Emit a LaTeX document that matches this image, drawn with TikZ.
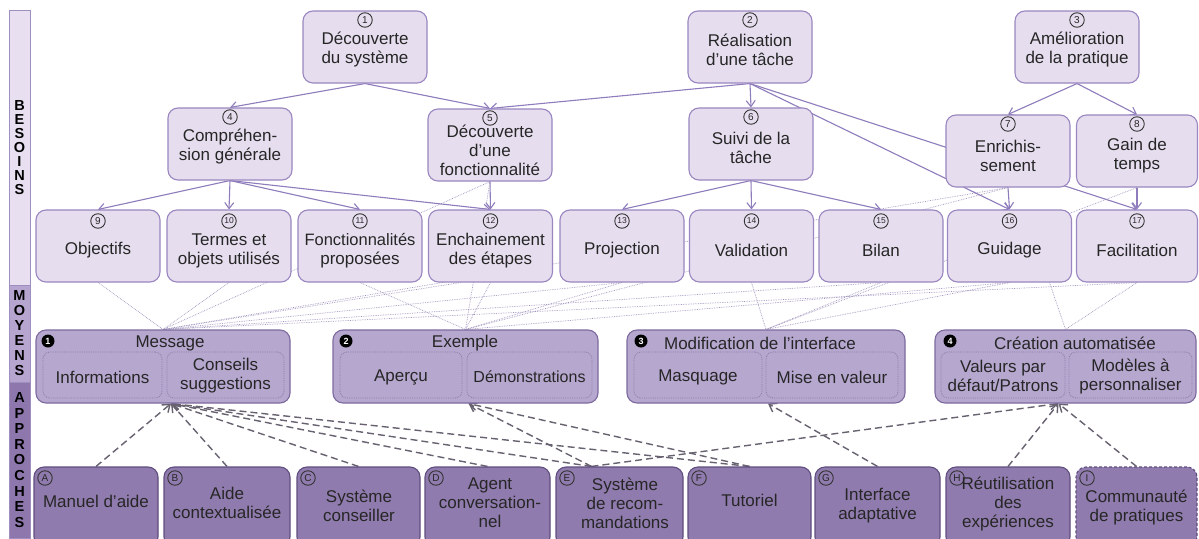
\documentclass[tikz,border=0pt]{standalone}
\usepackage{fontspec}
\setmainfont{Liberation Sans}
\usetikzlibrary{arrows.meta,calc,backgrounds}
\definecolor{needfill}{HTML}{E6DEEF}
\definecolor{needline}{HTML}{9A86C0}
\definecolor{moyfill}{HTML}{B6A7CF}
\definecolor{moyline}{HTML}{7C6A9E}
\definecolor{subline}{HTML}{8A7CA6}
\definecolor{appfill}{HTML}{907BAE}
\definecolor{appline}{HTML}{5F4E7E}
\definecolor{arrcol}{HTML}{8E7CBC}
\definecolor{dotcol}{HTML}{A094BE}
\definecolor{dashcol}{HTML}{676170}
\definecolor{sidea}{HTML}{E8E0F1}
\definecolor{sideb}{HTML}{B6A5CF}
\definecolor{sidec}{HTML}{8D77AD}
\definecolor{sideline}{HTML}{9F8FC0}
\begin{document}
\begin{tikzpicture}[x=1pt,y=-1pt,
  needbox/.style={draw=needline, fill=needfill, line width=1.1pt, rounded corners=10pt, minimum width=#1, minimum height=72pt, inner sep=0pt},
  needbox/.default=124pt,
  moybox/.style={draw=moyline, fill=moyfill, line width=1.1pt, rounded corners=10pt, minimum width=#1, minimum height=73pt, inner sep=0pt},
  subbox/.style={draw=subline, densely dotted, line width=0.8pt, rounded corners=7pt, minimum width=#1, minimum height=46pt, inner sep=0pt, fill=moyfill},
  appbox/.style={draw=appline, fill=appfill, line width=1.1pt, rounded corners=10pt, minimum width=#1, minimum height=80pt, inner sep=0pt},
  txt/.style={align=center, font=\fontsize{17}{19}\selectfont, inner sep=0pt, text=black!85},
  num/.style={circle, draw=black!80, line width=0.9pt, minimum size=14.5pt, inner sep=0pt, font=\fontsize{10}{10}\selectfont, text=black!85},
  num2/.style={num, font=\fontsize{8.5}{8.5}\selectfont},
  bnum/.style={circle, fill=black, minimum size=13pt, inner sep=0pt, font=\bfseries\fontsize{9}{9}\selectfont, text=white},
  sidebox/.style={draw=sideline, line width=0.8pt, minimum width=21pt, inner sep=0pt, align=center, font=\bfseries\fontsize{14.5}{#1}\selectfont},
  arr/.style={draw=arrcol, line width=1.1pt, -{Straight Barb[length=6pt,width=9pt]}},
  dotl/.style={draw=dotcol, line width=0.7pt, densely dotted},
  dasharr/.style={draw=dashcol, line width=1.4pt, dash pattern=on 7pt off 4pt, -{Straight Barb[length=7pt,width=10pt]}}
]
\useasboundingbox (0,0) rectangle (1199,538);

% sidebar
\node[sidebox=14pt, fill=sidea, minimum height=275pt] (sb1) at (19.5,147.5) {B\\E\\S\\O\\I\\N\\S};
\node[sidebox=15pt, fill=sideb, minimum height=97pt] (sb2) at (19.5,333.5) {M\\O\\Y\\E\\N\\S};
\node[sidebox=15.6pt, fill=sidec, minimum height=156pt] (sb3) at (19.5,460) {A\\P\\P\\R\\O\\C\\H\\E\\S};

% row 1
\node[needbox] (n1) at (365,47) {};
\node[num] (n1c) at (365,20) {1};
\node[txt] (n1t) at (365,50) {Découverte\\du système};
\node[needbox] (n2) at (750,47) {};
\node[num] (n2c) at (750,20) {2};
\node[txt] (n2t) at (750,50) {Réalisation\\d'une tâche};
\node[needbox] (n3) at (1077,47) {};
\node[num] (n3c) at (1077,20) {3};
\node[txt] (n3t) at (1077,50) {Amélioration\\de la pratique};

% row 2
\node[needbox] (n4) at (230,144) {};
\node[num] (n4c) at (230,117) {4};
\node[txt] (n4t) at (230,147) {Compréhen-\\sion générale};
\node[needbox] (n5) at (490,145) {};
\node[num] (n5c) at (490,118) {5};
\node[txt] (n5t) at (490,150) {Découverte\\d'une\\fonctionnalité};
\node[needbox] (n6) at (751,144) {};
\node[num] (n6c) at (751,117) {6};
\node[txt] (n6t) at (751,148) {Suivi de la\\tâche};
\node[needbox] (n7) at (1008,151) {};
\node[num] (n7c) at (1008,124) {7};
\node[txt] (n7t) at (1008,156) {Enrichis-\\sement};
\node[needbox=121pt] (n8) at (1137,151) {};
\node[num] (n8c) at (1137,124) {8};
\node[txt] (n8t) at (1137,156) {Gain de\\temps};

% row 3
\node[needbox] (n9) at (98,246) {};
\node[num] (n9c) at (98,221) {9};
\node[txt] (n9t) at (98,250) {Objectifs};
\node[needbox] (n10) at (229,246) {};
\node[num2] (n10c) at (229,221) {10};
\node[txt] (n10t) at (229,251) {Termes et\\objets utilisés};
\node[needbox] (n11) at (360,246) {};
\node[num2] (n11c) at (360,221) {11};
\node[txt] (n11t) at (360,251) {\fontsize{16.5}{19}\selectfont Fonctionnalités\\proposées};
\node[needbox] (n12) at (490.5,246) {};
\node[num2] (n12c) at (490.5,221) {12};
\node[txt] (n12t) at (490.5,251) {Enchainement\\des étapes};
\node[needbox] (n13) at (622,246) {};
\node[num2] (n13c) at (622,221) {13};
\node[txt] (n13t) at (622,250) {Projection};
\node[needbox] (n14) at (751.5,246) {};
\node[num2] (n14c) at (751.5,221) {14};
\node[txt] (n14t) at (751.5,250) {Validation};
\node[needbox] (n15) at (881,246) {};
\node[num2] (n15c) at (881,221) {15};
\node[txt] (n15t) at (881,250) {Bilan};
\node[needbox] (n16) at (1009.5,246) {};
\node[num2] (n16c) at (1009.5,221) {16};
\node[txt] (n16t) at (1009.5,250) {Guidage};
\node[needbox=121pt] (n17) at (1137,246) {};
\node[num2] (n17c) at (1137,221) {17};
\node[txt] (n17t) at (1137,250) {Facilitation};

% moyens
\node[moybox=254pt] (m1) at (163,366.5) {};
\node[bnum] (m1c) at (48,341) {1};
\node[txt] (m1t) at (170,343) {Message};
\node[subbox=119pt] (m1a) at (102.5,375) {};
\node[txt] (m1at) at (102.5,377) {Informations};
\node[subbox=117pt] (m1b) at (225.5,375) {};
\node[txt] (m1bt) at (225.5,376) {Conseils\\suggestions};

\node[moybox=265pt] (m2) at (465.5,366.5) {};
\node[bnum] (m2c) at (346,341) {2};
\node[txt] (m2t) at (465,343) {Exemple};
\node[subbox=122pt] (m2a) at (401,375) {};
\node[txt] (m2at) at (401,377) {Aperçu};
\node[subbox=125pt] (m2b) at (529.5,375) {};
\node[txt] (m2bt) at (529.5,377) {\fontsize{16}{19}\selectfont Démonstrations};

\node[moybox=278pt] (m3) at (766,366.5) {};
\node[bnum] (m3c) at (641,341) {3};
\node[txt] (m3t) at (760,343) {Modification de l'interface};
\node[subbox=128pt] (m3a) at (698,375) {};
\node[txt] (m3at) at (698,377) {Masquage};
\node[subbox=132pt] (m3b) at (832,375) {};
\node[txt] (m3bt) at (832,377) {Mise en valeur};

\node[moybox=261pt] (m4) at (1065.5,366.5) {};
\node[bnum] (m4c) at (950,341) {4};
\node[txt] (m4t) at (1075,343) {Création automatisée};
\node[subbox=124pt] (m4a) at (1003,375) {};
\node[txt] (m4at) at (1003,376) {Valeurs par\\défaut/Patrons};
\node[subbox=123pt] (m4b) at (1130.5,375) {};
\node[txt] (m4bt) at (1130.5,376) {Modèles à\\personnaliser};

% approches
\node[appbox=124pt] (A) at (96,507) {};
\node[num] (Ac) at (45,478) {A};
\node[txt] (At) at (96,501) {Manuel d'aide};
\node[appbox=126pt] (B) at (227,507) {};
\node[num] (Bc) at (175,478) {B};
\node[txt] (Bt) at (227,503) {Aide\\contextualisée};
\node[appbox=123pt] (C) at (358.5,507) {};
\node[num] (Cc) at (308,478) {C};
\node[txt] (Ct) at (359,506) {Système\\conseiller};
\node[appbox=125pt] (D) at (487.5,507) {};
\node[num] (Dc) at (436,478) {D};
\node[txt] (Dt) at (490,503) {Agent\\conversation-\\nel};
\node[appbox=127pt] (E) at (619.5,507) {};
\node[num] (Ec) at (567,478) {E};
\node[txt] (Et) at (625,503) {Système\\de recom-\\mandations};
\node[appbox=123pt] (F) at (749.5,507) {};
\node[num] (Fc) at (699,478) {F};
\node[txt] (Ft) at (749.5,500) {Tutoriel};
\node[appbox=125pt] (G) at (877.5,507) {};
\node[num] (Gc) at (826,478) {G};
\node[txt] (Gt) at (877.5,506) {Interface\\adaptative};
\node[appbox=124pt] (H) at (1008,507) {};
\node[num] (Hc) at (957,478) {H};
\node[txt] (Ht) at (1008,504) {Réutilisation\\des\\expériences};
\node[appbox=121pt, dash pattern=on 3pt off 2pt] (I) at (1136.5,507) {};
\node[num] (Ic) at (1087,478) {I};
\node[txt] (It) at (1136.5,507) {Communauté\\de pratiques};

\begin{pgfonlayer}{background}
\fill[white] (0,0) rectangle (1199,538);
% solid arrows
\draw[arr] (n1.south) -- (n4.north);
\draw[arr] (n1.south) -- (n5.north);
\draw[arr] (n2.south) -- (n5.north);
\draw[arr] (n2.south) -- (n6.north);
\draw[arr] (n2.south) -- (n16.north);
\draw[arr] (n2.south) -- (n17.north);
\draw[arr] (n3.south) -- (n7.north);
\draw[arr] (n3.south) -- (n8.north);
\draw[arr] (n4.south) -- (n9.north);
\draw[arr] (n4.south) -- (n10.north);
\draw[arr] (n4.south) -- (n11.north);
\draw[arr] (n4.south) -- (n12.north);
\draw[arr] (n5.south) -- (n12.north);
\draw[arr] (n6.south) -- (n13.north);
\draw[arr] (n6.south) -- (n14.north);
\draw[arr] (n6.south) -- (n15.north);
\draw[arr] (n7.south) -- (n16.north);
\draw[arr] (n8.south) -- (n17.north);
% dotted links to means
\draw[dotl] (n9.south) -- (m1.north);
\draw[dotl] (n10.south) -- (m1.north);
\draw[dotl] (n5.south) -- (m1.north);
\draw[dotl] (n7.south) -- (m1.north);
\draw[dotl] ($(n12.south)+(-30,0)$) -- (m1.north);
\draw[dotl] (n13.south) -- (m1.north);
\draw[dotl] (n15.south) -- (m1.north);
\draw[dotl] (n17.south) -- (m1.north);
\draw[dotl] (n11.south) -- (m2.north);
\draw[dotl] (n12.south) -- (m2.north);
\draw[dotl] (n5.south) -- (m2.north);
\draw[dotl] (n7.south) -- (m2.north);
\draw[dotl] (n13.south) -- (m2.north);
\draw[dotl] (n16.south) -- (m2.north);
\draw[dotl] (n14.south) -- (m3.north);
\draw[dotl] (n15.south) -- (m3.north);
\draw[dotl] (n16.south) -- (m3.north);
\draw[dotl] (n8.south) -- (m3.north);
\draw[dotl] ($(n16.south)+(40,0)$) -- (m4.north);
\draw[dotl] (n17.south) -- (m4.north);
% dashed arrows approaches -> means
\draw[dasharr] (A.north) -- ($(m1.south)+(8,0)$);
\draw[dasharr] (B.north) -- ($(m1.south)+(8,0)$);
\draw[dasharr] (C.north) -- ($(m1.south)+(8,0)$);
\draw[dasharr] (D.north) -- ($(m1.south)+(8,0)$);
\draw[dasharr] ($(E.north)+(-28,0)$) -- ($(m1.south)+(8,0)$);
\draw[dasharr] (F.north) -- ($(m1.south)+(8,0)$);
\draw[dasharr] ($(E.north)+(-28,0)$) -- ($(m2.south)+(3,0)$);
\draw[dasharr] (F.north) -- ($(m2.south)+(3,0)$);
\draw[dasharr] (G.north) -- ($(m3.south)+(2,0)$);
\draw[dasharr] ($(E.north)+(-28,0)$) -- ($(m4.south)+(-7,0)$);
\draw[dasharr] (H.north) -- ($(m4.south)+(-7,0)$);
\draw[dasharr] (I.north) -- ($(m4.south)+(-7,0)$);
\end{pgfonlayer}
\end{tikzpicture}
\end{document}
